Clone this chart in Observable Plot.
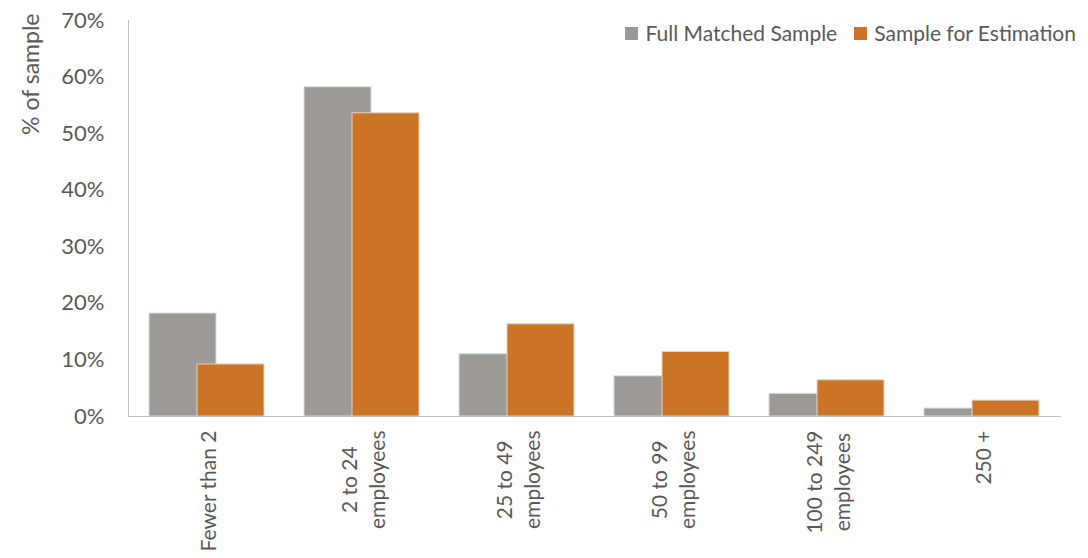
<!DOCTYPE html>
<html>
<head>
<meta charset="utf-8">
<script src="https://cdn.jsdelivr.net/npm/d3@7"></script>
<script src="https://cdn.jsdelivr.net/npm/@observablehq/plot@0.6"></script>
<style>
  html, body { margin: 0; padding: 0; background: #fff; }
  #wrap { position: relative; width: 1088px; height: 558px; font-family: Lato, "Open Sans", sans-serif; color: #595959; }
  #legend { position: absolute; top: 20px; right: 12px; display: flex; gap: 17px; font-size: 21px; line-height: 26px; }
  #legend .item { display: flex; align-items: center; }
  #legend .sw { width: 13px; height: 13px; margin-right: 7px; }
</style>
</head>
<body>
<div id="wrap"></div>
<script>
const categories = ["Fewer than 2", "2 to 24\nemployees", "25 to 49\nemployees", "50 to 99\nemployees", "100 to 249\nemployees", "250 +"];
const fullMatched = [0.182, 0.582, 0.110, 0.071, 0.040, 0.014];
const estimation  = [0.092, 0.536, 0.163, 0.114, 0.064, 0.028];
const seriesNames = ["Full Matched Sample", "Sample for Estimation"];
const seriesColors = ["#9D9994", "#CC7426"];
const yTicks = [0, 0.1, 0.2, 0.3, 0.4, 0.5, 0.6, 0.7];

const rowsA = categories.map((c, i) => ({category: c, value: fullMatched[i]}));
const rowsB = categories.map((c, i) => ({category: c, value: estimation[i]}));

const chart = Plot.plot({
  width: 1088,
  height: 558,
  marginLeft: 128,
  marginRight: 28,
  marginTop: 20,
  marginBottom: 142,
  style: {fontFamily: "Lato, 'Open Sans', sans-serif", fontSize: "21px", color: "#595959", background: "#fff"},
  x: {domain: categories, padding: 0, label: null},
  y: {domain: [0, 0.7], label: null},
  marks: [
    Plot.barY(rowsA, {x: "category", y: "value", fill: seriesColors[0], stroke: "#dcdcdc", strokeWidth: 1, insetLeft: 44, insetRight: 44, dx: -24}),
    Plot.barY(rowsB, {x: "category", y: "value", fill: seriesColors[1], stroke: "#e6d2c0", strokeWidth: 1, insetLeft: 44, insetRight: 44, dx: 24}),
    Plot.frame({anchor: "left", stroke: "#bfbfbf"}),
    Plot.frame({anchor: "bottom", stroke: "#bfbfbf"}),
    Plot.axisY({ticks: yTicks, tickSize: 0, tickPadding: 24, fontSize: 22, tickFormat: d3.format(".0%"), label: null}),
    Plot.axisX({tickSize: 0, tickPadding: 14, tickRotate: -90, fontSize: 21, lineHeight: 1.35, label: null}),
    Plot.text(["% of sample"], {frameAnchor: "top-left", rotate: -90, textAnchor: "end", dx: -106, dy: -7, fontSize: 23, fill: "#595959"})
  ]
});

const wrap = document.getElementById("wrap");
wrap.appendChild(chart);

// center-align lines within each rotated multi-line tick label, keeping the block's end at the axis
chart.querySelectorAll('g[aria-label="x-axis tick label"] text').forEach(t => {
  const w = t.getBBox().width;
  t.setAttribute("text-anchor", "middle");
  t.setAttribute("x", -w / 2);
  t.querySelectorAll("tspan").forEach(s => s.setAttribute("x", -w / 2));
});

const legend = document.createElement("div");
legend.id = "legend";
seriesNames.forEach((n, i) => {
  const item = document.createElement("div");
  item.className = "item";
  const sw = document.createElement("span");
  sw.className = "sw";
  sw.style.background = seriesColors[i];
  const tx = document.createElement("span");
  tx.textContent = n;
  item.appendChild(sw);
  item.appendChild(tx);
  legend.appendChild(item);
});
wrap.appendChild(legend);
</script>
</body>
</html>
